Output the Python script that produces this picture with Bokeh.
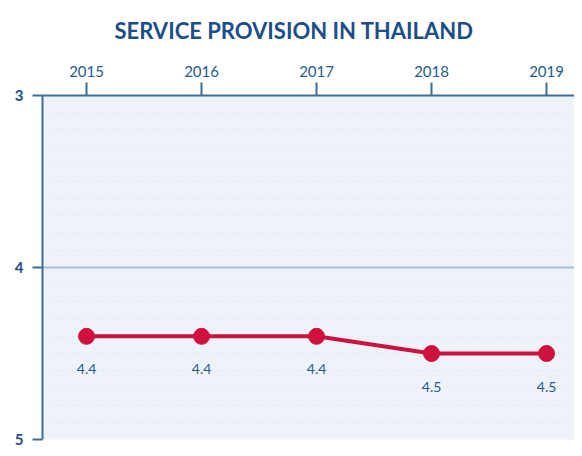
from bokeh.plotting import figure
from bokeh.models import Range1d, FixedTicker, ColumnDataSource, Title
from bokeh.embed import file_html
from bokeh.resources import INLINE
from bokeh.core.properties import value
import numpy as np

years = [2015, 2016, 2017, 2018, 2019]
scores = [4.4, 4.4, 4.4, 4.5, 4.5]
score_labels = ["4.4", "4.4", "4.4", "4.5", "4.5"]
y_ticks = [3, 4, 5]
title_text = "SERVICE PROVISION IN THAILAND"

AXIS = "#3f6f95"
TXT = "#285a8b"
RED = "#cf1140"
FONT = "Lato"

src = ColumnDataSource(dict(x=years, y=scores, lab=score_labels))

p = figure(width=574, height=448, output_backend="svg", toolbar_location=None,
           x_range=Range1d(2014.617, 2019.243), y_range=Range1d(5, 3),
           x_axis_location="above", min_border_left=42, min_border_right=0,
           min_border_top=94, min_border_bottom=9)
p.background_fill_color = "#eef3fa"
p.border_fill_color = "white"
p.outline_line_color = None

t = Title(text=title_text, align="left", offset=72, standoff=33,
          vertical_align="top", text_font=FONT, text_font_size="22px",
          text_font_style="bold", text_color="#1d4e89")
p.add_layout(t, "above")

xa = p.xaxis[0]
xa.ticker = FixedTicker(ticks=years)
xa.major_tick_out = 13
xa.major_tick_in = 0
xa.minor_tick_out = 0
xa.minor_tick_in = 0
xa.axis_line_color = AXIS
xa.axis_line_width = 2
xa.major_tick_line_color = AXIS
xa.major_tick_line_width = 2
xa.major_label_text_font = FONT
xa.major_label_text_font_size = "15px"
xa.major_label_text_color = TXT
xa.major_label_standoff = 6

ya = p.yaxis[0]
ya.ticker = FixedTicker(ticks=y_ticks, minor_ticks=list(np.round(np.arange(3.1, 5.0, 0.1), 2)))
ya.major_tick_out = 10
ya.major_tick_in = 0
ya.minor_tick_out = 0
ya.minor_tick_in = 0
ya.axis_line_color = AXIS
ya.axis_line_width = 2
ya.major_tick_line_color = AXIS
ya.major_tick_line_width = 2
ya.major_label_text_font = FONT
ya.major_label_text_font_size = "15px"
ya.major_label_text_font_style = "bold"
ya.major_label_text_color = "#1d4e89"
ya.major_label_standoff = 9

p.xgrid.grid_line_color = None
p.ygrid.grid_line_color = "#a9c0d5"
p.ygrid.grid_line_width = 2
p.ygrid.minor_grid_line_color = "#d3dce9"
p.ygrid.minor_grid_line_dash = "1 4"
p.ygrid.minor_grid_line_width = 1

p.line("x", "y", source=src, line_color=RED, line_width=4)
p.scatter("x", "y", source=src, size=16, fill_color=RED, line_color=RED)
p.text("x", "y", text="lab", source=src, y_offset=33, text_align="center",
       text_baseline="middle", text_font=value(FONT), text_font_size="14px",
       text_color=TXT)

open("out.html", "w").write(file_html(p, INLINE))
